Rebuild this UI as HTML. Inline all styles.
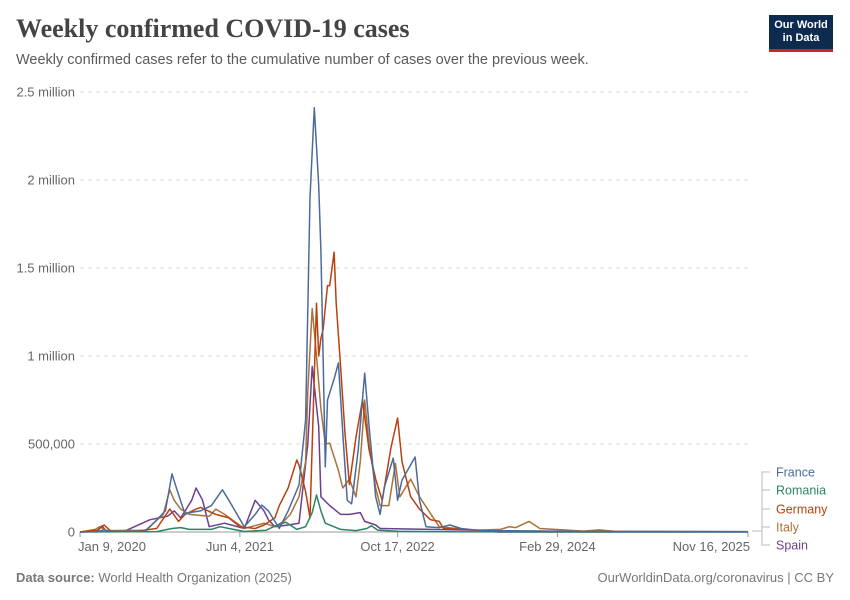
<!DOCTYPE html>
<html><head><meta charset="utf-8"><style>
body{margin:0;background:#fff;font-family:"Liberation Sans",sans-serif;}
#wrap{position:relative;width:850px;height:600px;overflow:hidden;}
.title{position:absolute;left:16px;top:14px;font-family:"Liberation Serif",serif;font-size:26px;font-weight:bold;color:#444;}
.sub{position:absolute;left:16px;top:52px;font-size:14.5px;color:#5b5b5b;}
.logo{position:absolute;left:769px;top:15px;width:64px;height:37px;background:#0d2a4f;border-bottom:3px solid #c4282d;color:#fff;font-size:11px;font-weight:bold;text-align:center;line-height:13px;padding-top:4px;box-sizing:border-box;}
.foot{position:absolute;top:570px;font-size:13px;color:#777;}
</style></head><body>
<div id="wrap">
<div class="title">Weekly confirmed COVID-19 cases</div>
<div class="sub">Weekly confirmed cases refer to the cumulative number of cases over the previous week.</div>
<div class="logo">Our World<br>in Data</div>
<svg id="chart" width="850" height="600" style="position:absolute;left:0;top:0"></svg>
<div class="foot" style="left:16px"><b>Data source:</b> World Health Organization (2025)</div>
<div class="foot" style="right:16px">OurWorldinData.org/coronavirus | CC BY</div>
</div>
<script>
const yTicks=[0,500000,1000000,1500000,2000000,2500000];
const yTickLabels=["0","500,000","1 million","1.5 million","2 million","2.5 million"];
const xTickWeeks=[0,73,145,218,305];
const xTickLabels=["Jan 9, 2020","Jun 4, 2021","Oct 17, 2022","Feb 29, 2024","Nov 16, 2025"];
const seriesNames=["France","Romania","Germany","Italy","Spain"];
const franceWeeks=[0,8,11,14,30,39,42,44,48,50,55,60,65,68,75,80,83,86,91,95,100,103,105,107,109,110,111,112,113,116,118,120,122,124,127,130,132,135,137,139,143,145,147,153,155,158,164,169,174,183,240,305];
const franceVals=[0,2000,12000,3000,5000,120000,330000,250000,100000,110000,120000,150000,240000,180000,30000,100000,153000,120000,20000,120000,267000,636000,1900000,2410000,1970000,1600000,1000000,370000,750000,870000,960000,560000,180000,160000,466000,903000,600000,200000,100000,255000,420000,180000,295000,426000,180000,30000,25000,40000,20000,8000,3000,2000];
const romaniaWeeks=[0,35,42,46,50,60,64,68,75,85,90,94,99,103,106,108,110,112,119,126,131,133,136,145,165,305];
const romaniaVals=[0,2000,20000,25000,15000,15000,30000,20000,3000,10000,40000,55000,15000,30000,110000,210000,120000,50000,15000,8000,20000,35000,10000,4000,1000,500];
const germanyWeeks=[0,8,11,14,25,35,41,45,48,53,55,62,68,73,80,84,89,91,95,99,100,103,105,108,109,110,111,113,114,116,117,119,121,123,126,129,132,135,138,142,145,147,151,155,160,164,166,190,305];
const germanyVals=[0,10000,40000,5000,3000,20000,130000,60000,100000,130000,140000,100000,80000,30000,20000,40000,80000,150000,250000,409000,380000,230000,80000,1300000,1000000,1100000,1150000,1400000,1400000,1590000,1300000,940000,560000,270000,540000,750000,466000,300000,180000,480000,648000,400000,200000,130000,70000,60000,20000,5000,1000];
const italyWeeks=[0,7,9,12,30,38,41,43,46,50,59,62,66,75,84,89,93,96,100,103,104,106,108,110,112,114,118,120,123,126,128,130,132,135,137,141,144,146,151,155,164,180,192,196,199,205,210,230,237,245,305];
const italyVals=[0,15000,30000,8000,10000,100000,240000,180000,130000,100000,90000,130000,100000,20000,50000,30000,60000,100000,200000,400000,800000,1270000,1000000,700000,500000,505000,350000,250000,300000,200000,400000,750000,500000,250000,150000,150000,390000,200000,300000,200000,30000,10000,15000,30000,25000,60000,20000,5000,12000,3000,1000];
const spainWeeks=[0,8,10,12,20,32,40,43,46,51,53,56,59,66,75,80,84,86,89,95,100,104,106,109,110,114,119,123,128,130,135,137,160,183,190,305];
const spainVals=[0,5000,35000,5000,3000,70000,90000,120000,80000,180000,250000,180000,30000,50000,20000,180000,120000,70000,30000,40000,50000,500000,940000,600000,200000,150000,100000,100000,110000,60000,40000,20000,15000,10000,0,0];
const series=[[franceWeeks,franceVals,"#4c6a9c","France"],[romaniaWeeks,romaniaVals,"#2c8465","Romania"],[germanyWeeks,germanyVals,"#b9400f","Germany"],[italyWeeks,italyVals,"#a8733a","Italy"],[spainWeeks,spainVals,"#6d3e91","Spain"]];
const NS="http://www.w3.org/2000/svg";
const svg=document.getElementById("chart");
const x0=80,x1=748,y0=532,y1=92;
function xs(w){return x0+(x1-x0)*w/305;}
function ys(v){return y0-(y0-y1)*v/2500000;}
function el(t,a){const e=document.createElementNS(NS,t);for(const k in a)e.setAttribute(k,a[k]);svg.appendChild(e);return e;}
yTicks.forEach((v,i)=>{
 if(v>0){const g=el("line",{x1:x0,x2:x1,y1:ys(v),y2:ys(v),stroke:"#ddd","stroke-dasharray":"4,4"});
 
 }
 const t=el("text",{x:75,y:ys(v)+4.5,"text-anchor":"end","font-size":"13","fill":"#666","font-family":"Liberation Sans"});
 t.textContent=yTickLabels[i];
 
 
});
const ax=el("line",{x1:x0,x2:x1,y1:y0,y2:y0,stroke:"#999"});


xTickWeeks.forEach((w,i)=>{
 const tk=el("line",{x1:xs(w),x2:xs(w),y1:y0,y2:y0+5,stroke:"#999"});
 
 
 const last=i===xTickWeeks.length-1, first=i===0;
 const t=el("text",{x:last?xs(w)+2:first?xs(w)-2:xs(w),y:551,"text-anchor":last?"end":first?"start":"middle","font-size":"13","fill":"#666","font-family":"Liberation Sans"});
 t.textContent=xTickLabels[i];
 
 
});
const legendY=[472,490,509,527,545];
[4,3,2,1,0].forEach(i=>{
 const s=series[i];
 const pts=s[0].map((w,j)=>xs(w).toFixed(1)+","+ys(s[1][j]).toFixed(1)).join(" ");
 const p=el("polyline",{points:pts,fill:"none",stroke:s[2],"stroke-width":"1.5","stroke-linejoin":"round"});
 
 
});
series.forEach((s,i)=>{
 const ly=legendY[i];
 const c=el("polyline",{points:`752,531 762,531 762,${ly} 770,${ly}`,fill:"none",stroke:"#bbb","stroke-width":"1"});
 
 
 const t=el("text",{x:776,y:ly+4.5,"font-size":"12.5","fill":s[2],"font-family":"Liberation Sans"});
 t.textContent=s[3];
 
 
});
</script>
</body></html>
